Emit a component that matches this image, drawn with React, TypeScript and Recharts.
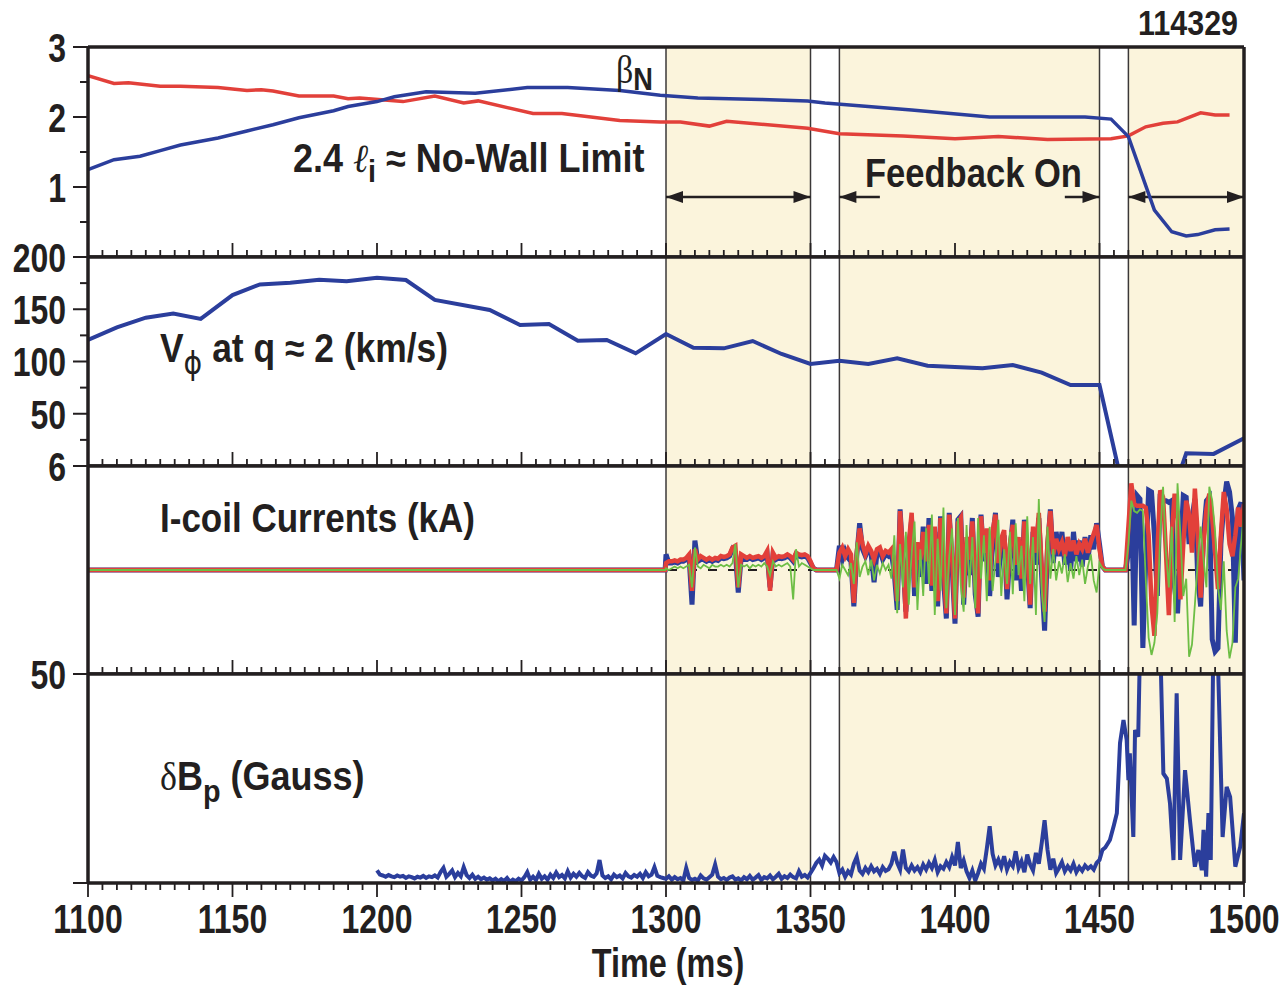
import React from 'react';
import { LineChart, Line, XAxis, YAxis, ReferenceArea, ReferenceLine, ReferenceDot } from 'recharts';

const FONT = '"Liberation Sans", Arial, Helvetica, sans-serif';
const INK = '#231F20';
const CREAM = '#FBF4DC';
const BLUE = '#2B3E9C';
const RED = '#E2403A';
const GREEN = '#6DBE45';

const W = 1281;
const PAD = 30;
const PANEL_TOPS = [47, 257, 466, 674, 883];

// time axis
const xLabels = [1100, 1150, 1200, 1250, 1300, 1350, 1400, 1450, 1500];
const xTicks: number[] = [];
for (let t = 1100; t <= 1500; t += 5) xTicks.push(t);

// feedback windows and their boundary lines
const windows = [[1300, 1350], [1360, 1450], [1460, 1500]];
const boundaries = [1300, 1350, 1360, 1450, 1460];

// arrows in the top panel
const arrowY = 0.857;
const arrowSegs = [[1300, 1350], [1360, 1374], [1438, 1450], [1460, 1500]];
const arrowHeads = [[1300, -1], [1350, 1], [1360, -1], [1450, 1], [1460, -1], [1500, 1]];

// beta_N
const bnT = [1100, 1109, 1118, 1125, 1132, 1145, 1155, 1164, 1173, 1185, 1190, 1200, 1206, 1217, 1234, 1252, 1266, 1284, 1298, 1311, 1333, 1349, 1355, 1385, 1412, 1445, 1454, 1460, 1469, 1475, 1480, 1484, 1490, 1495];
const bnV = [1.25, 1.39, 1.44, 1.52, 1.6, 1.7, 1.8, 1.89, 1.99, 2.09, 2.15, 2.22, 2.29, 2.36, 2.34, 2.42, 2.42, 2.38, 2.31, 2.27, 2.25, 2.23, 2.2, 2.1, 2.0, 2.0, 1.97, 1.72, 0.67, 0.36, 0.3, 0.32, 0.39, 0.4];

// 2.4 li
const liT = [1100, 1109, 1114, 1125, 1132, 1145, 1155, 1160, 1164, 1173, 1185, 1190, 1194, 1209, 1220, 1230, 1235, 1254, 1264, 1284, 1298, 1305, 1315, 1321, 1349, 1360, 1382, 1400, 1415, 1432, 1454, 1460, 1466, 1472, 1477, 1485, 1490, 1495];
const liV = [2.59, 2.48, 2.49, 2.44, 2.44, 2.42, 2.38, 2.39, 2.37, 2.3, 2.3, 2.26, 2.27, 2.22, 2.3, 2.2, 2.23, 2.05, 2.05, 1.95, 1.93, 1.93, 1.87, 1.94, 1.84, 1.76, 1.73, 1.69, 1.72, 1.68, 1.69, 1.73, 1.86, 1.91, 1.93, 2.06, 2.03, 2.03];

// V_phi at q=2
const vpT = [1100, 1110, 1120, 1129.5, 1139, 1150, 1159.5, 1170, 1180, 1189.5, 1200, 1210, 1220, 1239, 1249.5, 1259.5, 1269.5, 1279.5, 1289.5, 1300, 1309.5, 1320, 1330, 1340, 1350, 1360, 1370, 1380, 1390.5, 1409.5, 1420, 1430, 1440, 1450, 1458, 1478, 1480, 1489.5, 1500];
const vpV = [120.6, 132.7, 141.9, 146, 140.7, 163.6, 173.8, 175.4, 178.3, 176.7, 180.2, 178, 159, 149.3, 134.9, 135.9, 119.9, 120.6, 107.8, 126.3, 113.2, 112.6, 119.6, 107.2, 97.6, 100.8, 97.6, 103, 96, 93.5, 96.6, 89.3, 77.5, 77.5, -20, -4, 12.1, 11.6, 26.5];

// I-coil currents, 1 ms samples from 1300 to 1500 (flat zero before)
const IC_T0 = 1300;
const icRed = [
  0.4, 0.5, 0.5, 0.55, 0.5, 0.6, 0.6, 0.7, 0.9, -1.2,
  1.2, 0.6, 0.8, 0.7, 0.6, 0.7, 0.6, 0.7, 0.65, 0.8,
  0.75, 0.8, 0.9, 1.3, 1.4, -1.0, 0.9, 0.8, 0.7, 0.8,
  0.7, 0.75, 0.8, 0.7, 0.8, 1.1, -1.2, 1.0, 0.7, 0.8,
  0.75, 0.8, 0.9, 0.8, 0.6, 1.0, 0.9, 0.85, 0.9, 0.8,
  0.5, 0.1, 0, 0, 0, 0, 0, 0, 0, 0,
  1.0, 1.3, 0.8, 1.2, 0.9, -1.9, 1.0, 2.4, 1.5, 0.9,
  1.4, 1.1, 0.6, 1.2, 1.3, 0.8, 1.1, 1.0, 1.2, 0.4,
  -1.8, 3.4, 1.0, -2.8, 1.5, 3.3, -1.0, 1.6, 0.6, 2.2,
  0.5, 2.6, -0.9, 2.5, -1.8, 3.0, 0.4, -2.5, 3.2, 0.8,
  -2.8, 2.7, 3.0, -1.6, 1.9, 0.6, 2.8, -0.8, -2.5, 3.1,
  1.0, 2.4, -0.6, 2.2, 3.2, 0.4, 1.8, 2.3, -1.1, 1.5,
  2.6, 0.3, 1.9, -0.5, 2.8, 1.2, -2.0, 2.5, 1.0, 3.3,
  0.2, -2.4, 1.6, 3.4, 0.9, 1.8, 1.2, 1.6, 0.8, 1.9,
  1.1, 1.7, 0.9, 1.5, 1.2, 1.8, 1.0, 1.6, 2.1, 2.6,
  1.2, 0.2, 0, 0, 0, 0, 0, 0, 0, 0,
  2.5, 5.0, 3.8, 3.7, 3.7, 3.7, 3.6, 2.0, -2.0, -3.8,
  1.0, 4.6, 4.2, 1.0, -2.6, 2.0, 4.4, 3.0, -1.7, 1.5,
  4.0, 3.2, 1.0, 4.7, 2.0, -1.6, 1.5, 3.5, 4.4, 3.0,
  1.0, -1.1, 2.0, 4.5, 3.5, 1.5, 0.8, 2.0, 3.6, 2.5,
  3.8,
];
const icBlue = [
  0.9, 0.4, 0.4, 0.45, 0.4, 0.5, 0.5, 0.6, 0.7, -2.0,
  1.7, 0.5, 0.6, 0.6, 0.5, 0.6, 0.5, 0.6, 0.55, 0.7,
  0.65, 0.7, 0.8, 1.2, 1.0, -1.3, 0.7, 0.6, 0.6, 0.7,
  0.6, 0.65, 0.7, 0.6, 0.7, 0.9, -1.0, 0.8, 0.6, 0.7,
  0.65, 0.7, 0.8, 0.7, 0.5, 0.9, 0.8, 0.75, 0.8, 0.7,
  0.4, 0.1, 0, 0, 0, 0, 0, 0, 0, 0,
  1.4, 0.6, 1.1, 0.7, 0.5, -2.1, 0.8, 2.7, 1.2, 0.8,
  1.2, 0.9, -0.7, 1.0, 1.1, 0.6, 0.9, 0.8, 1.0, -0.2,
  -2.3, 3.5, 0.6, -2.4, 1.2, 2.9, -1.5, 1.2, -0.4, 2.5,
  -0.8, 3.0, -1.2, 2.2, -2.1, 3.1, -0.5, -2.8, 3.3, 0.2,
  -3.1, 2.9, 3.1, -2.0, 1.5, -0.3, 3.0, -1.4, -2.7, 3.2,
  0.5, 2.0, -1.5, 1.8, 3.3, -0.4, 1.4, 2.0, -1.7, 1.0,
  2.9, -0.6, 1.5, -1.2, 2.9, 0.7, -2.2, 2.2, 0.3, 3.0,
  -0.4, -3.5, 1.2, 3.5, 0.4, 2.2, 0.8, 2.2, 0.3, 1.6,
  0.0, 2.2, 0.5, 1.7, 0.2, 1.9, 0.6, 2.0, 1.2, 2.7,
  1.5, 0.2, 0, 0, 0, 0, 0, 0, 0, 0,
  1.0, 4.3, -3.2, 4.3, 4.1, -4.5, 0.5, 4.6, 4.5, 2.0,
  -1.5, 4.4, 4.0, 4.0, 3.9, 4.0, -1.0, -2.5, 1.0, 4.3,
  4.2, 1.5, 3.0, 4.1, -0.5, -2.1, 2.0, 4.0, 4.2, -4.0,
  -4.7, -4.5, 1.5, 3.8, 5.1, 4.5, 3.0, -4.2, 3.5, 3.9,
  -0.6,
];
const icGreen = [
  0.1, 0.0, 0.1, 0.2, 0.1, 0.2, 0.1, 0.2, 0.3, -1.0,
  1.3, 0.2, 0.1, 0.3, 0.2, 0.1, 0.3, 0.2, 0.2, 0.3,
  0.2, 0.3, 0.2, 0.4, 1.5, -1.0, 0.3, 0.2, 0.3, 0.1,
  0.3, 0.2, 0.3, 0.2, 0.4, 0.2, -0.3, 0.5, 0.2, 0.3,
  0.2, 0.3, 0.4, 0.2, -1.7, 1.2, 0.2, 0.4, 0.3, 0.2,
  0.1, 0.0, 0, 0, 0, 0, 0, 0, 0, 0,
  -0.5, 0.3, 0.0, -0.3, 0.4, -0.8, 1.6, -0.4, 0.2, 0.5,
  -0.3, 0.6, -0.6, 0.3, -0.2, 0.4, 0.0, 0.3, -0.5, 2.0,
  -2.5, 1.5, -1.0, 2.2, -2.0, 1.0, 2.8, -2.3, 1.2, -1.5,
  2.4, -0.8, 3.2, -2.6, 1.8, -1.2, 3.6, -2.2, 0.8, 2.4,
  -2.6, 3.0, -0.9, -2.4, 2.6, -1.0, 1.9, -2.2, 3.0, -0.5,
  2.0, -1.8, 2.5, -1.2, 0.6, 2.9, -1.5, 1.2, -0.8, 2.2,
  -1.4, 2.7, -0.3, 1.4, -1.8, 3.1, -0.8, 1.9, -2.6, 4.1,
  -1.2, -3.0, 2.5, -0.5, 1.2, -0.6, 0.5, -0.2, 0.9, -0.7,
  0.4, -0.5, 0.8, -0.3, 0.6, -0.8, 0.2, 0.9, -0.6, -1.3,
  0.4, 0.1, 0, 0, 0, 0, 0, 0, 0, 0,
  1.5, 4.0, 3.4, 3.3, 3.5, 3.4, -0.5, -3.9, -4.9, -4.2,
  -2.5, 2.0, 4.8, 1.0, -1.0, 2.5, -3.0, 5.0, 2.0, -1.5,
  -0.5, -5.0, -4.3, -2.0, 0.5, 2.5, 0.6, -1.0, 4.8, 4.0,
  2.2, -1.0, -2.3, 0.5, -3.5, -5.1, -4.2, -1.0, -0.5, 1.5,
  3.4,
];

// delta B_p, 1 ms samples from 1200 to 1449, then the burst
const DB_T0 = 1200;
const dbNoise = [
  3.0, 2.0, 1.8, 1.5, 1.9, 1.6, 1.4, 1.8, 1.5, 1.7,
  1.2, 1.6, 1.4, 1.1, 1.5, 1.3, 1.7, 1.2, 1.6, 1.4,
  1.8, 1.3, 2.6, 3.6, 1.5, 2.2, 3.0, 1.4, 2.4, 1.6,
  3.8, 1.9, 1.2, 2.0, 1.0, 1.5, 0.9, 1.3, 0.8, 1.1,
  0.6, 1.0, 0.4, 0.9, 0.5, 1.2, 0.3, 0.8, 0.4, 1.0,
  0.6, 1.4, 2.6, 0.8, 1.5, 0.7, 2.2, 1.0, 1.6, 0.8,
  2.0, 1.2, 2.5, 1.4, 1.9, 1.1, 2.8, 1.3, 2.2, 1.5,
  2.4, 1.6, 1.2, 2.6, 1.8, 1.5, 2.3, 5.5, 1.8, 1.2,
  1.6, 0.9, 2.0, 1.4, 1.8, 1.1, 2.4, 1.6, 1.3, 1.9,
  1.5, 2.2, 1.2, 2.6, 1.6, 2.0, 3.8, 1.7, 1.4, 1.2,
  1.0, 1.6, 0.8, 1.4, 0.9, 1.2, 0.6, 3.6, 1.2, 0.7,
  1.0, 0.6, 1.8, 1.1, 0.8, 1.4, 2.0, 4.4, 1.5, 0.9,
  1.2, 0.7, 1.3, 1.6, 0.8, 1.1, 0.6, 1.4, 0.9, 1.7,
  0.8, 1.3, 1.9, 0.7, 1.4, 1.1, 1.8, 0.9, 1.5, 2.2,
  1.0, 1.6, 1.2, 2.0, 1.4, 1.1, 2.8, 1.5, 1.9, 1.3,
  2.4, 3.5, 4.8, 5.6, 4.2, 6.5, 5.8, 4.9, 6.2, 5.0,
  2.4, 3.2, 1.5, 2.8, 2.0, 4.6, 6.2, 3.0, 2.2, 3.6,
  2.6, 4.0, 2.8, 3.4, 2.2, 3.8, 2.9, 3.3, 4.6, 7.5,
  4.8, 3.2, 8.0, 3.6, 2.8, 4.2, 3.0, 3.8, 2.6, 4.4,
  3.2, 4.8, 3.6, 5.5, 2.6, 4.0, 3.4, 5.0, 3.8, 6.2,
  4.2, 9.8, 3.6, 5.4, 2.8, 1.2, 3.0, 0.6, 2.4, 4.6,
  3.4, 8.2, 13.6, 7.0, 4.2, 5.6, 3.8, 6.4, 3.2, 5.0,
  4.0, 7.6, 3.6, 5.2, 2.6, 6.8, 4.4, 3.0, 7.2, 4.6,
  9.5, 15.0, 8.0, 3.2, 5.8, 2.4, 3.6, 5.0, 2.8, 4.0,
  3.0, 4.6, 2.6, 3.8, 2.9, 4.2, 3.4, 4.0, 3.2, 4.8,
];
const dbBurstT = [1450, 1451, 1452, 1453.6, 1455, 1456, 1457.1, 1458.3, 1459.4, 1460, 1460.5, 1461.7, 1462.3, 1463.4, 1464, 1467, 1471, 1472.1, 1473.3, 1474.4, 1475.6, 1476.7, 1477.9, 1479.6, 1481.3, 1483, 1484.2, 1485.4, 1486, 1486.9, 1487.7, 1488.5, 1489.4, 1490.8, 1492.6, 1494, 1495.2, 1497, 1498.7, 1500];
const dbBurstV = [5.5, 7.9, 8.5, 10.3, 13.9, 16.7, 33.5, 39, 34.2, 24.6, 31, 11, 36.6, 35, 56, 65, 58, 26.2, 25, 19, 5.5, 45.4, 5.5, 27, 15, 3.9, 7.9, 3.1, 12.7, 1.5, 16.7, 5.5, 58, 58, 11, 23, 20.6, 3.9, 8.7, 16.7];

const bnData = bnT.map((t, i) => ({ t, v: bnV[i] }));
const liData = liT.map((t, i) => ({ t, v: liV[i] }));
const vpData = vpT.map((t, i) => ({ t, v: vpV[i] }));
const icData = [
  { t: 1100, red: 0, blue: 0, green: 0 },
  { t: 1299.7, red: 0, blue: 0, green: 0 },
].concat(icRed.map((r, i) => ({ t: IC_T0 + i, red: r, blue: icBlue[i], green: icGreen[i] })));
const dbData = dbNoise.map((v, i) => ({ t: DB_T0 + i, v })).concat(dbBurstT.map((t, i) => ({ t, v: dbBurstV[i] })));

const XTick = (props: any) => {
  const { x, y, payload, bottom } = props;
  const v = payload.value;
  const major = v % 50 === 0;
  const len = major ? 14 : 7;
  if (!bottom) {
    return <line x1={x} x2={x} y1={y} y2={y - len} stroke={INK} strokeWidth={1.8} />;
  }
  return (
    <g>
      <line x1={x} x2={x} y1={y} y2={y + len} stroke={INK} strokeWidth={1.8} />
      {xLabels.includes(v) && (
        <text transform={`translate(${x},${y + 50}) scale(0.78,1)`} textAnchor="middle" fontSize={41} fontWeight="bold" fontFamily={FONT} fill={INK}>
          {v}
        </text>
      )}
    </g>
  );
};

const YTick = (props: any) => {
  const { x, y, payload, labels, majors } = props;
  const v = payload.value;
  const lab = labels.includes(v);
  const len = lab || majors.includes(v) ? 15 : 8;
  return (
    <g>
      <line x1={x} x2={x - len} y1={y} y2={y} stroke={INK} strokeWidth={2} />
      {lab && (
        <text transform={`translate(${x - 22},${y}) scale(0.78,1)`} dy="0.36em" textAnchor="end" fontSize={41} fontWeight="bold" fontFamily={FONT} fill={INK}>
          {v}
        </text>
      )}
    </g>
  );
};

const ArrowHead = (dir: number) => (props: any) => {
  const { cx, cy } = props;
  const b = cx - dir * 17;
  return <polygon points={`${cx},${cy} ${b},${cy - 6} ${b},${cy + 6}`} fill={INK} />;
};

function Panel({ idx, domain, ticks, labels, majors, children }: any) {
  const top = PANEL_TOPS[idx];
  const h = PANEL_TOPS[idx + 1] - top;
  const bottom = idx === 3;
  // axes need a non-zero size to be drawn
  const axisH = bottom ? 70 : 1;
  const border = { stroke: INK, strokeWidth: 3.5 };
  return (
    <div style={{ position: 'absolute', left: 0, top: top - PAD }}>
      <LineChart width={W} height={h + PAD + axisH} margin={{ top: PAD - 1, right: 36, bottom: 0, left: 0 }}>
        {windows.map(([a, b]) => (
          <ReferenceArea key={a} x1={a} x2={b} fill={CREAM} fillOpacity={1} stroke="none" />
        ))}
        {boundaries.map((b) => (
          <ReferenceLine key={b} x={b} stroke="#3b3838" strokeWidth={1.5} />
        ))}
        <XAxis
          dataKey="t"
          type="number"
          domain={[1100, 1500]}
          allowDataOverflow
          ticks={xTicks}
          interval={0}
          height={axisH}
          tickLine={false}
          tickSize={0}
          tickMargin={0}
          axisLine={border}
          tick={<XTick bottom={bottom} />}
        />
        <XAxis
          xAxisId="top"
          orientation="top"
          type="number"
          domain={[1100, 1500]}
          ticks={[1100, 1500]}
          height={1}
          tick={false}
          tickLine={false}
          axisLine={border}
        />
        <YAxis
          type="number"
          domain={domain}
          allowDataOverflow
          ticks={ticks}
          interval={0}
          width={88}
          tickLine={false}
          tickSize={0}
          tickMargin={0}
          axisLine={border}
          tick={<YTick labels={labels} majors={majors} />}
        />
        <YAxis
          yAxisId="right"
          orientation="right"
          type="number"
          domain={[0, 1]}
          ticks={[0, 1]}
          width={1}
          tick={false}
          tickLine={false}
          axisLine={border}
        />
        {children}
      </LineChart>
    </div>
  );
}

export default function App() {
  return (
    <div style={{ position: 'absolute', left: 0, top: 0, width: W, height: 987, background: '#fff', overflow: 'hidden' }}>
      <Panel idx={0} domain={[0, 3]} ticks={[0.5, 1, 1.5, 2, 2.5, 3]} labels={[1, 2, 3]} majors={[]}>
        {arrowSegs.map(([a, b]) => (
          <ReferenceLine key={a} segment={[{ x: a, y: arrowY }, { x: b, y: arrowY }]} stroke={INK} strokeWidth={2.5} />
        ))}
        {arrowHeads.map(([t, d]) => (
          <ReferenceDot key={t} x={t} y={arrowY} r={6} shape={ArrowHead(d)} />
        ))}
        <Line data={liData} dataKey="v" type="linear" stroke={RED} strokeWidth={3.5} dot={false} isAnimationActive={false} />
        <Line data={bnData} dataKey="v" type="linear" stroke={BLUE} strokeWidth={3.5} dot={false} isAnimationActive={false} />
      </Panel>
      <Panel idx={1} domain={[0, 200]} ticks={[25, 50, 75, 100, 125, 150, 175, 200]} labels={[50, 100, 150, 200]} majors={[]}>
        <Line data={vpData} dataKey="v" type="linear" stroke={BLUE} strokeWidth={4} dot={false} isAnimationActive={false} />
      </Panel>
      <Panel idx={2} domain={[-6, 6]} ticks={[6]} labels={[6]} majors={[]}>
        <ReferenceLine y={0} stroke={INK} strokeWidth={2} strokeDasharray="9 11" />
        <Line data={icData} dataKey="blue" type="linear" stroke={BLUE} strokeWidth={5} dot={false} isAnimationActive={false} />
        <Line data={icData} dataKey="red" type="linear" stroke={RED} strokeWidth={4.5} dot={false} isAnimationActive={false} />
        <Line data={icData} dataKey="green" type="linear" stroke={GREEN} strokeWidth={1.8} dot={false} isAnimationActive={false} />
      </Panel>
      <Panel idx={3} domain={[0, 50]} ticks={[0, 50]} labels={[50]} majors={[0]}>
        <Line data={dbData} dataKey="v" type="linear" stroke={BLUE} strokeWidth={4} dot={false} isAnimationActive={false} />
      </Panel>

      <svg width={W} height={987} style={{ position: 'absolute', left: 0, top: 0, pointerEvents: 'none' }} fontFamily={FONT} fill={INK}>
        <text transform="translate(1238,35) scale(0.87,1)" textAnchor="end" fontSize={35} fontWeight="bold">114329</text>
        <text transform="translate(616,83) scale(0.85,1)" fontSize={40}>
          <tspan fontFamily='"Liberation Serif", "DejaVu Serif", serif'>β</tspan>
          <tspan fontSize={32} fontWeight="bold" dy={7}>N</tspan>
        </text>
        <text transform="translate(293,172) scale(0.9,1)" fontSize={40} fontWeight="bold">
          2.4 <tspan fontWeight="normal" fontStyle="italic" fontFamily='"DejaVu Serif", serif'>ℓ</tspan>
          <tspan fontSize={32} dy={10}>i</tspan>
          <tspan dy={-10}> ≈ No-Wall Limit</tspan>
        </text>
        <text transform="translate(865,187) scale(0.864,1)" fontSize={40} fontWeight="bold">Feedback On</text>
        <text transform="translate(160,362) scale(0.885,1)" fontSize={40} fontWeight="bold">
          V<tspan fontSize={32} fontWeight="normal" dy={12} fontFamily='"DejaVu Sans", sans-serif'>ϕ</tspan>
          <tspan dy={-12}> at q ≈ 2 (km/s)</tspan>
        </text>
        <text transform="translate(160,532) scale(0.875,1)" fontSize={40} fontWeight="bold">I-coil Currents (kA)</text>
        <text transform="translate(160,790) scale(0.9,1)" fontSize={40} fontWeight="bold">
          <tspan fontWeight="normal" fontFamily='"Liberation Serif", serif'>δ</tspan>B
          <tspan fontSize={32} dy={12}>p</tspan>
          <tspan dy={-12}> (Gauss)</tspan>
        </text>
        <text transform="translate(668,977) scale(0.81,1)" textAnchor="middle" fontSize={40} fontWeight="bold">Time (ms)</text>
      </svg>
    </div>
  );
}
